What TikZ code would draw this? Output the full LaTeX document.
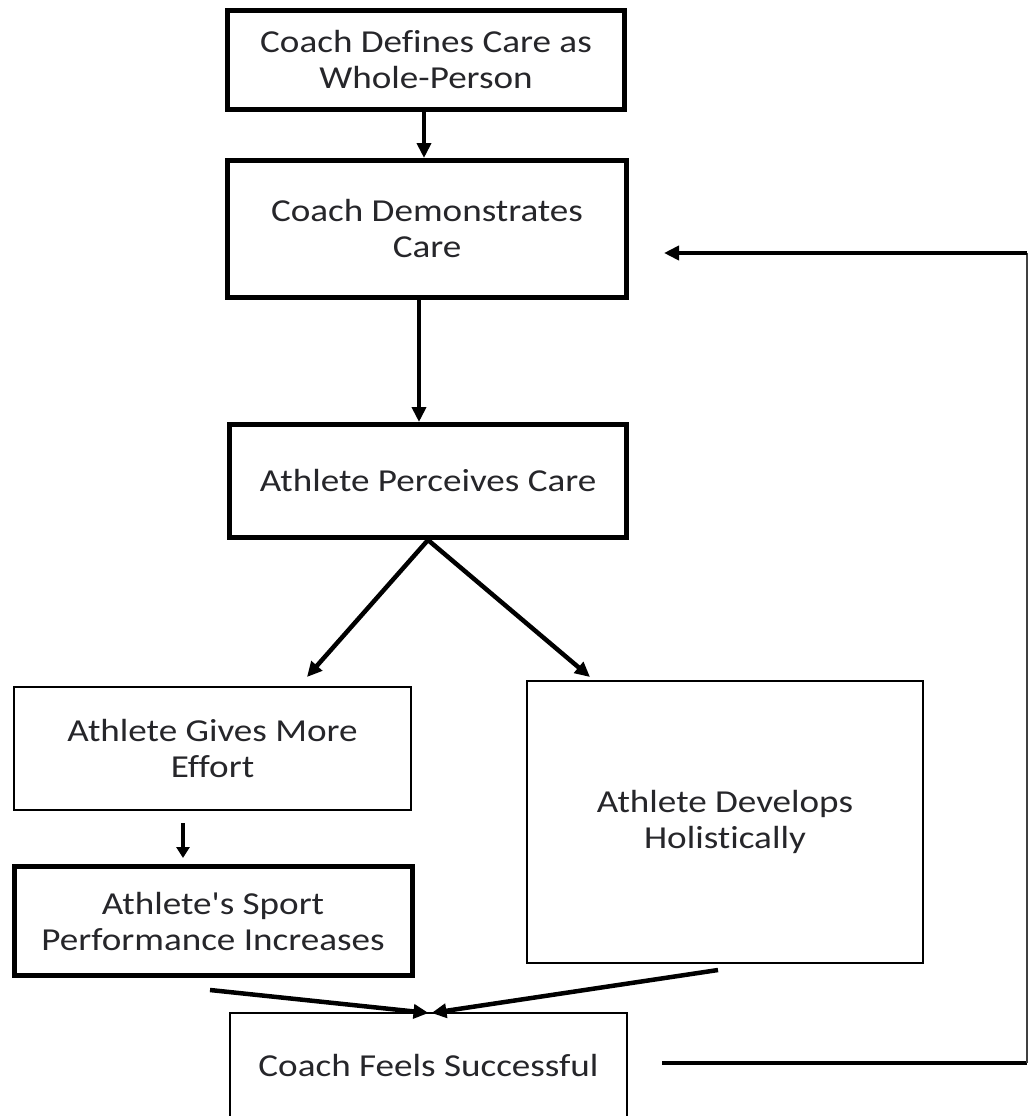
\documentclass[tikz,border=0pt]{standalone}
\usepackage{fontspec}
\setmainfont{Carlito}[FakeStretch=1.16,Ligatures={TeXOff,NoCommon}]
\usetikzlibrary{arrows.meta,calc}
\definecolor{ink}{RGB}{38,38,42}
\tikzset{
  >={Triangle[length=15pt,width=14pt]},
  box/.style={draw=black,line width=#1,fill=white,text=ink,align=center,
    minimum width=397pt,inner sep=0pt,font=\fontsize{32}{36}\selectfont},
  box/.default=5pt,
  thin box/.style={box=2pt},
  flow/.style={->,line width=4.5pt,draw=black},
  loop line/.style={line width=#1,draw=black},
  loop line/.default=4.5pt,
}
\begin{document}
\begin{tikzpicture}[x=1pt,y=-1pt]
  \clip (0,0) rectangle (1029,1116);
  \fill[white] (0,0) rectangle (1029,1116);
  % main chain
  \node[box,minimum height=99pt] (define) at (426,60) {Coach Defines Care as\\Whole-Person};
  \node[box,minimum height=137pt,minimum width=399pt] (demo) at (427,229) {Coach Demonstrates\\Care};
  \node[box,minimum height=113pt] (perceive) at (428,481) {Athlete Perceives Care};
  \node[thin box,minimum height=123pt] (effort) at (212.5,748.5) {Athlete Gives More\\Effort};
  \node[box,minimum height=109pt,minimum width=398pt] (perform) at (213,921) {Athlete's Sport\\Performance Increases};
  \node[thin box,minimum height=282pt,minimum width=396pt] (holistic) at (725,822) {Athlete Develops\\Holistically};
  \node[thin box,minimum height=104pt,anchor=north] (success) at (428.5,1012) {Coach Feels Successful};
  % free ends
  \coordinate (defineOut) at ($(define.south)+(-2,0)$);
  \coordinate (demoIn) at (defineOut |- demo.north);
  \coordinate (demoOut) at ($(demo.south)+(-8,0)$);
  \coordinate (perceiveIn) at (demoOut |- perceive.north);
  \coordinate (effortL) at (307,677);
  \coordinate (holisticR) at (590,677);
  \coordinate (effortOut) at (183,823);
  \coordinate (performIn) at (183,858);
  \coordinate (performOut) at (210,990);
  \coordinate (holisticOut) at (718,970);
  \coordinate (fb1) at (662,1063);
  \coordinate (fb2) at (1027,1063);
  \coordinate (fb3) at (1027,253);
  \coordinate (fb4) at (664,253);
  % connectors
  \draw[flow] (defineOut) -- (demoIn);
  \draw[flow] (demoOut) -- (perceiveIn);
  \draw[flow] (perceive.south) -- (effortL);
  \draw[flow] (perceive.south) -- (holisticR);
  \draw[flow,>={Triangle[length=11pt,width=13pt]}] (effortOut) -- (performIn);
  \draw[flow] (performOut) -- ($(success.north)+(0,1)$);
  \draw[flow] (holisticOut) -- ($(success.north)+(3,1)$);
  % feedback loop
  \draw[loop line] (fb1) -- (fb2);
  \draw[loop line=1.6pt,black!75] (fb2) -- (fb3);
  \draw[flow] (fb3) -- (fb4);
\end{tikzpicture}
\end{document}
